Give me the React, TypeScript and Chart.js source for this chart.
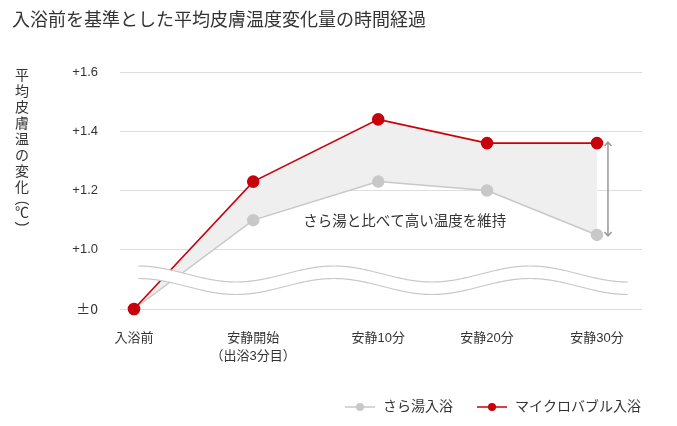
import React, { useEffect, useRef } from 'react';
import { Chart, registerables } from 'chart.js';

Chart.register(...registerables);

// ---- data ----
const categories: string[][] = [['入浴前'], ['安静開始', '（出浴3分目）'], ['安静10分'], ['安静20分'], ['安静30分']];
const categorySlots = [0, 1.03, 2.11, 3.05, 4];
const sarayuValues = [0, 1.1, 1.23, 1.2, 1.05];
const microValues = [0, 1.23, 1.44, 1.36, 1.36];
const yTickValues = [0, 1.0, 1.2, 1.4, 1.6];
const yTickLabels = ['±0', '+1.0', '+1.2', '+1.4', '+1.6'];
const seriesNames = ['さら湯入浴', 'マイクロバブル入浴'];
const titleText = '入浴前を基準とした平均皮膚温度変化量の時間経過';
const yAxisTitle = ['平', '均', '皮', '膚', '温', 'の', '変', '化'];
const annotationText = 'さら湯と比べて高い温度を維持';
const annotationAt = { x: 2.34, y: 1.092 };

const RED = '#c8000a';
const GRAY = '#c8c8c8';
const FONT = '"Liberation Sans", "Noto Sans CJK JP", sans-serif';
const CJK_FONT = '"Noto Sans CJK JP", "Liberation Sans", sans-serif';

// broken axis: values below 1.0 are compressed into [0.8, 1.0]
const toAxis = (v: number) => (v >= 1 ? v : 0.8 + 0.2 * v);

const decorPlugin = {
  id: 'decor',
  afterDatasetsDraw(chart: any) {
    const { ctx, chartArea, scales } = chart;
    const x = scales.x;
    const y = scales.y;
    // wavy axis break
    const x0 = chartArea.left + 18;
    const x1 = chartArea.right - 14;
    const cy = chartArea.bottom - 35;
    const amp = 8;
    const period = 196;
    const gap = 12.5;
    const wy = (px: number) => cy - amp * Math.cos((2 * Math.PI * (px - x0)) / period);
    ctx.save();
    ctx.beginPath();
    for (let px = x0; px <= x1; px += 1) {
      if (px === x0) ctx.moveTo(px, wy(px));
      else ctx.lineTo(px, wy(px));
    }
    for (let px = x1; px >= x0; px -= 1) ctx.lineTo(px, wy(px) + gap);
    ctx.closePath();
    ctx.fillStyle = '#ffffff';
    ctx.fill();
    ctx.strokeStyle = '#c8c8c8';
    ctx.lineWidth = 1.2;
    for (const off of [0, gap]) {
      ctx.beginPath();
      for (let px = x0; px <= x1; px += 1) {
        if (px === x0) ctx.moveTo(px, wy(px) + off);
        else ctx.lineTo(px, wy(px) + off);
      }
      ctx.stroke();
    }
    // double arrow
    const last = categorySlots.length - 1;
    const ax = x.getPixelForValue(categorySlots[last]) + 11;
    const yTop = y.getPixelForValue(toAxis(microValues[last])) - 1;
    const yBot = y.getPixelForValue(toAxis(sarayuValues[last])) + 1;
    ctx.strokeStyle = '#999999';
    ctx.lineWidth = 1.5;
    ctx.beginPath();
    ctx.moveTo(ax, yTop);
    ctx.lineTo(ax, yBot);
    ctx.moveTo(ax - 3.5, yTop + 4);
    ctx.lineTo(ax, yTop);
    ctx.lineTo(ax + 3.5, yTop + 4);
    ctx.moveTo(ax - 3.5, yBot - 4);
    ctx.lineTo(ax, yBot);
    ctx.lineTo(ax + 3.5, yBot - 4);
    ctx.stroke();
    // annotation text
    ctx.fillStyle = '#333333';
    ctx.font = `14.5px ${FONT}`;
    ctx.textAlign = 'center';
    ctx.textBaseline = 'middle';
    ctx.fillText(annotationText, x.getPixelForValue(annotationAt.x), y.getPixelForValue(annotationAt.y));
    ctx.restore();
  },
  afterDraw(chart: any) {
    const { ctx } = chart;
    ctx.save();
    // title
    ctx.fillStyle = '#333333';
    ctx.font = `18px ${FONT}`;
    ctx.textAlign = 'left';
    ctx.textBaseline = 'middle';
    ctx.fillText(titleText, 12, 21.5);
    // vertical y-axis title
    ctx.font = `14px ${FONT}`;
    ctx.textAlign = 'center';
    const cx = 22;
    yAxisTitle.forEach((ch, i) => ctx.fillText(ch, cx, 76.5 + i * 15.9));
    const rot = (ch: string, py: number) => {
      ctx.save();
      ctx.translate(cx, py);
      ctx.rotate(Math.PI / 2);
      ctx.fillText(ch, 0, 0);
      ctx.restore();
    };
    rot('(', 203);
    ctx.fillText('℃', cx, 213);
    rot(')', 224);
    // legend
    const ly = 407;
    const items = [
      { name: seriesNames[0], color: GRAY, x: 345 },
      { name: seriesNames[1], color: RED, x: 477 },
    ];
    ctx.font = `14px ${FONT}`;
    ctx.textAlign = 'left';
    for (const it of items) {
      ctx.strokeStyle = it.color;
      ctx.lineWidth = 1.5;
      ctx.beginPath();
      ctx.moveTo(it.x, ly);
      ctx.lineTo(it.x + 30, ly);
      ctx.stroke();
      ctx.fillStyle = it.color;
      ctx.beginPath();
      ctx.arc(it.x + 15, ly, 4, 0, Math.PI * 2);
      ctx.fill();
      ctx.fillStyle = '#333333';
      ctx.fillText(it.name, it.x + 38, ly);
    }
    ctx.restore();
  },
};

export default function App() {
  const ref = useRef<HTMLCanvasElement | null>(null);
  useEffect(() => {
    if (!ref.current) return;
    const chart = new Chart(ref.current, {
      type: 'line',
      data: {
        datasets: [
          {
            label: seriesNames[1],
            data: microValues.map((v, i) => ({ x: categorySlots[i], y: toAxis(v) })),
            borderColor: RED,
            backgroundColor: RED,
            pointBackgroundColor: RED,
            pointBorderColor: RED,
            pointRadius: 5.5,
            borderWidth: 1.6,
            fill: false,
            clip: false,
          } as any,
          {
            label: seriesNames[0],
            data: sarayuValues.map((v, i) => ({ x: categorySlots[i], y: toAxis(v) })),
            borderColor: GRAY,
            backgroundColor: '#efefef',
            pointBackgroundColor: GRAY,
            pointBorderColor: GRAY,
            pointRadius: 5.5,
            borderWidth: 1.5,
            fill: 0,
            clip: false,
          } as any,
        ],
      },
      options: {
        responsive: false,
        animation: false,
        layout: { padding: { left: 0, top: 72, right: 35, bottom: 0 } },
        plugins: { legend: { display: false }, tooltip: { enabled: false }, title: { display: false } },
        scales: {
          x: {
            type: 'linear',
            min: -0.121,
            max: 4.389,
            grid: { display: false, drawTicks: false },
            border: { display: false },
            afterBuildTicks: (scale: any) => {
              scale.ticks = categorySlots.map((v) => ({ value: v }));
            },
            afterFit: (scale: any) => {
              scale.height = 117;
            },
            ticks: {
              autoSkip: false,
              maxRotation: 0,
              padding: 20,
              color: '#333333',
              font: { family: FONT, size: 13, lineHeight: 1.4 },
              callback: (_v: any, i: number) => categories[i],
            },
          },
          y: {
            type: 'linear',
            min: 0.8,
            max: 1.6,
            grid: { color: '#dddddd', drawTicks: false, lineWidth: 1 },
            border: { display: false },
            afterBuildTicks: (scale: any) => {
              scale.ticks = yTickValues.map((v) => ({ value: toAxis(v) }));
            },
            afterFit: (scale: any) => {
              scale.width = 120;
            },
            ticks: {
              padding: 22,
              color: '#333333',
              font: (c: any) =>
                c.index === 0 ? { family: CJK_FONT, size: 14 } : { family: FONT, size: 13 },
              callback: (_v: any, i: number) => yTickLabels[i],
            },
          },
        },
      } as any,
      plugins: [decorPlugin],
    });
    return () => chart.destroy();
  }, []);
  return (
    <div style={{ position: 'fixed', left: 0, top: 0, width: 677, height: 426, background: '#ffffff' }}>
      <canvas ref={ref} width={677} height={426} />
    </div>
  );
}
